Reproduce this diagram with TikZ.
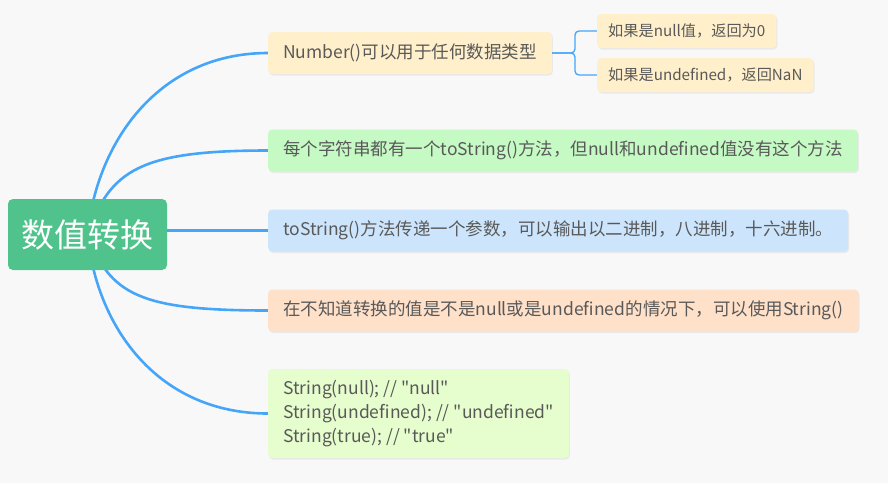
\documentclass[tikz,border=0pt]{standalone}
\usepackage{fontspec}
\setmainfont{Noto Sans CJK SC}[Ligatures=TeXOff]
\usetikzlibrary{shadows}

\definecolor{bgcol}{HTML}{F8F8F8}
\definecolor{rootgreen}{HTML}{50C28B}
\definecolor{edgeblue}{HTML}{45A6F9}
\definecolor{txtgray}{HTML}{595959}
\definecolor{ylw}{HTML}{FFF0CB}
\definecolor{grn}{HTML}{C6FAC4}
\definecolor{blu}{HTML}{CCE5FC}
\definecolor{peach}{HTML}{FFE0C8}
\definecolor{lime}{HTML}{E6FDCE}

\pgfdeclarelayer{bg}
\pgfdeclarelayer{edges}
\pgfsetlayers{bg,edges,main}

\tikzset{
  root/.style={fill=rootgreen, text=white, rounded corners=5pt, minimum width=159pt, minimum height=71pt, inner sep=0pt, font=\fontsize{33}{33}\selectfont},
  leaf/.style={rounded corners=4pt, text=txtgray, anchor=west, inner xsep=15pt, minimum height=42pt, font=\fontsize{17.5}{24}\selectfont, drop shadow={shadow xshift=1pt, shadow yshift=-1.5pt, opacity=0.12}},
  subleaf/.style={leaf, inner xsep=11pt, minimum height=34pt, font=\fontsize{15.2}{18}\selectfont},
  edge/.style={draw=edgeblue, line width=2.6pt},
  subedge/.style={draw=edgeblue, line width=1.3pt, rounded corners=4pt},
}

\begin{document}
\begin{tikzpicture}[x=1pt, y=-1pt]
    % Background
    \begin{pgfonlayer}{bg}
    \fill[bgcol] (0,0) rectangle (888,483);
    \end{pgfonlayer}
    \useasboundingbox (0,0) rectangle (888,483);

    % Central topic
    \node[root] (root) at (87.5,234.5) {数值转换};

    % Main topics
    \node[leaf, fill=ylw] (num) at (268,53) {Number()可以用于任何数据类型};
    \node[leaf, fill=grn] (each) at (268,150.5) {每个字符串都有一个toString()方法，但null和undefined值没有这个方法};
    \node[leaf, fill=blu] (tos) at (268,230.5) {toString()方法传递一个参数，可以输出以二进制，八进制，十六进制。};
    \node[leaf, fill=peach] (unk) at (268,310.5) {在不知道转换的值是不是null或是undefined的情况下，可以使用String()};
    \node[leaf, fill=lime, align=left, minimum height=89pt] (ex) at (268,413.5) {String(null); // "null"\\String(undefined); // "undefined"\\String(true); // "true"};

    % Subtopics of Number()
    \node[subleaf, fill=ylw] (nul) at (597,31) {如果是null值，返回为0};
    \node[subleaf, fill=ylw] (und) at (597,75) {如果是undefined，返回NaN};

    % Connectors
    \begin{pgfonlayer}{edges}
    \draw[edge] (root.center) .. controls (97,140) and (160,53) .. (num.west);
    \draw[edge] (root.center) .. controls (110,170) and (140,150.5) .. (each.west);
    \draw[edge] (root.center |- tos.west) -- (tos.west);
    \draw[edge] (root.center) .. controls (110,295) and (140,310.5) .. (unk.west);
    \draw[edge] (root.center) .. controls (97,330) and (160,413.5) .. (ex.west);
    \draw[subedge] (num.east) -- ++(23,0) |- (nul.west);
    \draw[subedge] (num.east) -- ++(23,0) |- (und.west);
    \end{pgfonlayer}
\end{tikzpicture}
\end{document}
